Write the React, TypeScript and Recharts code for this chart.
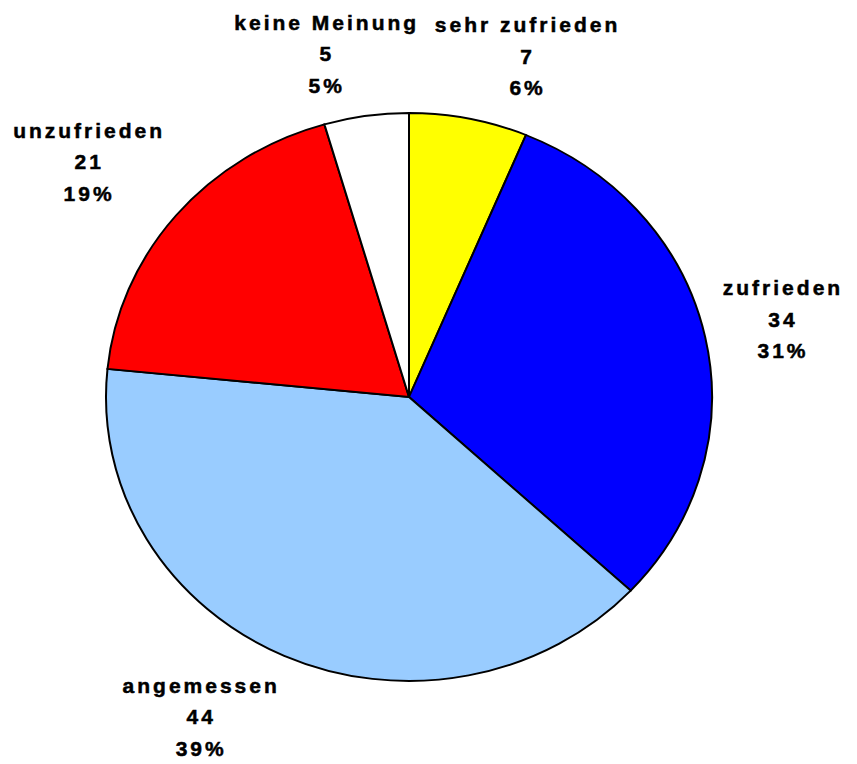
import { Cell, Pie, PieChart } from "recharts";

const categories = [
  "sehr zufrieden",
  "zufrieden",
  "angemessen",
  "unzufrieden",
  "keine Meinung",
];
const counts = [7, 34, 44, 21, 5];
const percentLabels = ["6%", "31%", "39%", "19%", "5%"];
const sliceColors = ["#FFFF00", "#0000FF", "#99CCFF", "#FF0000", "#FFFFFF"];

const WIDTH = 857;
const HEIGHT = 764;
// extra room above/below so the squashed svg doesn't clip the labels
const PAD = 80;
const CX = 409;
const CY = 397;
const RADIUS = 303;
// the original pie is a slightly flattened ellipse
const SQUASH = 284 / 303;
const FONT = "'Liberation Sans', Arial, sans-serif";
const FONT_SIZE = 21;
const LETTER_SPACING = 3;
const LINE_GAP = 31.5;
const BLOCK_HEIGHT = 87;
const LABEL_GAP = 18;

let measureCtx: CanvasRenderingContext2D | null = null;
function textWidth(s: string): number {
  if (!measureCtx) measureCtx = document.createElement("canvas").getContext("2d");
  if (!measureCtx) return s.length * 13;
  measureCtx.font = `bold ${FONT_SIZE}px ${FONT}`;
  return measureCtx.measureText(s).width + LETTER_SPACING * (s.length - 1);
}

const clamp = (v: number) => Math.max(-1, Math.min(1, v));

function renderLabel(props: any) {
  const { cx, cy, midAngle, outerRadius, index } = props;
  const rad = (midAngle * Math.PI) / 180;
  const ux = Math.cos(rad);
  const uy = -Math.sin(rad);
  const lines = [categories[index], String(counts[index]), percentLabels[index]];
  const w = Math.max(...lines.map(textWidth));

  // anchor point on the (squashed) rim, then push the text block outwards
  const px = cx + outerRadius * ux;
  const py = cy + outerRadius * SQUASH * uy;
  const lx = px + (clamp(3 * ux) * w) / 2 + LABEL_GAP * ux;
  const ly = py + (clamp(1.5 * uy) * BLOCK_HEIGHT) / 2 + (LABEL_GAP + 1) * uy;
  const preY = cy + (ly - cy) / SQUASH;

  return (
    <g key={`lbl-${index}`} transform={`translate(${lx},${preY}) scale(1,${1 / SQUASH})`}>
      {lines.map((t, i) => (
        <text
          key={i}
          x={LETTER_SPACING / 2}
          y={(i - 1) * LINE_GAP}
          textAnchor="middle"
          dominantBaseline="central"
          fill="#000"
          stroke="#000"
          strokeWidth={0.5}
          style={{
            fontFamily: FONT,
            fontWeight: 700,
            fontSize: FONT_SIZE,
            letterSpacing: LETTER_SPACING,
          }}
        >
          {t}
        </text>
      ))}
    </g>
  );
}

export default function App() {
  const data = categories.map((name, i) => ({ name, value: counts[i] }));

  return (
    <div
      style={{
        position: "absolute",
        left: 0,
        top: 0,
        width: WIDTH,
        height: HEIGHT,
        overflow: "hidden",
        background: "#fff",
      }}
    >
      <div
        style={{
          position: "absolute",
          left: 0,
          top: -PAD,
          width: WIDTH,
          height: HEIGHT + 2 * PAD,
          transform: `scaleY(${SQUASH})`,
          transformOrigin: `${CX}px ${CY + PAD}px`,
        }}
      >
        <PieChart
          width={WIDTH}
          height={HEIGHT + 2 * PAD}
          margin={{ top: 0, right: 0, bottom: 0, left: 0 }}
        >
          <Pie
            data={data}
            dataKey="value"
            nameKey="name"
            cx={CX}
            cy={CY + PAD}
            outerRadius={RADIUS}
            startAngle={90}
            endAngle={-270}
            stroke="#000"
            strokeWidth={2}
            label={renderLabel}
            labelLine={false}
            isAnimationActive={false}
          >
            {data.map((d, i) => (
              <Cell key={d.name} fill={sliceColors[i]} />
            ))}
          </Pie>
        </PieChart>
      </div>
    </div>
  );
}
